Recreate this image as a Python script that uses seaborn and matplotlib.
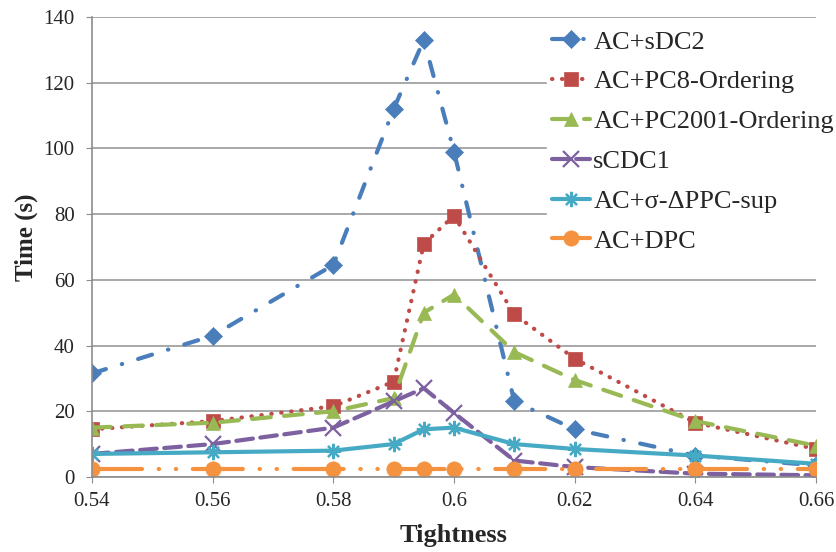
import numpy as np
import pandas as pd
import matplotlib
matplotlib.use('Agg')
import matplotlib.pyplot as plt
import seaborn as sns

tightness = [0.54, 0.56, 0.58, 0.59, 0.595, 0.60, 0.61, 0.62, 0.64, 0.66]

ac_sdc2 = [31.5, 43, 64.5, 112, 133, 99, 23, 14.5, 6.5, 3.5]
ac_pc8 = [14.5, 17, 21.5, 29, 71, 79.5, 49.5, 36, 16.5, 8.5]
ac_pc2001 = [15, 16.5, 20, 24, 50, 55.5, 38, 29.5, 17, 9.5]
scdc1 = [7, 10, 15, 23, 27, 19.5, 5, 3, 1, 0.5]
ac_dppc = [7, 7.5, 8, 10, 14.5, 15, 10, 8.5, 6.5, 4]
ac_dpc = [2.5, 2.5, 2.5, 2.5, 2.5, 2.5, 2.5, 2.5, 2.5, 2.5]

labels = ['AC+sDC2', 'AC+PC8-Ordering', 'AC+PC2001-Ordering', 'sCDC1',
          'AC+σ-ΔPPC-sup', 'AC+DPC']
series = [ac_sdc2, ac_pc8, ac_pc2001, scdc1, ac_dppc, ac_dpc]
colors = ['#4A7EBB', '#BE4B48', '#98B954', '#7D60A0', '#46AAC5', '#F59240']
markers = ['D', 's', '^', 'x', (8, 2, 0), 'o']
styles = [(0, (3.5, 4, 0.1, 4)), (0, (0.1, 2.3)), (0, (4.5, 3.2)),
          (0, (4, 1.8)), '-', (0, (12, 4, 0.1, 4, 0.1, 4))]
msizes = [9, 10, 10, 11, 11, 11]

sns.set_style('white')
plt.rcParams['font.family'] = ['Liberation Serif', 'DejaVu Serif']

fig = plt.figure(figsize=(8.37, 5.52), dpi=100)
ax = fig.add_axes([0.1099, 0.136, 0.865, 0.8333])

for lab, vals, c, m, ls, ms in zip(labels, series, colors, markers, styles, msizes):
    df = pd.DataFrame({'Tightness': tightness, 'Time': vals})
    thin = m == 'x' or isinstance(m, tuple)
    sns.lineplot(data=df, x='Tightness', y='Time', ax=ax, color=c, label=lab,
                 linestyle=ls, linewidth=3, marker=m, markersize=ms,
                 markeredgecolor=c, markeredgewidth=1.6 if thin else 0.5,
                 dash_capstyle='round', solid_capstyle='round')

ax.set_xlim(0.54, 0.66)
ax.set_ylim(0, 140)
ax.set_xticks(np.arange(0.54, 0.661, 0.02))
ax.set_xticklabels(['0.54', '0.56', '0.58', '0.6', '0.62', '0.64', '0.66'])
ax.set_yticks(range(0, 141, 20))
ax.yaxis.grid(True, color='#9a9a9a', linewidth=1.2)
ax.set_axisbelow(True)
for s in ['top', 'right']:
    ax.spines[s].set_visible(False)
for s in ['left', 'bottom']:
    ax.spines[s].set_color('#8c8c8c')
    ax.spines[s].set_linewidth(1.2)
ax.tick_params(axis='both', direction='out', length=4.5, color='#8c8c8c',
               labelsize=15, left=True, bottom=True)
ax.tick_params(axis='x', pad=6)
ax.tick_params(axis='y', pad=8)
ax.set_xlabel('Tightness', fontsize=19, fontweight='bold', labelpad=10)
ax.set_ylabel('Time (s)', fontsize=18, fontweight='bold')
ax.yaxis.set_label_coords(-0.0745, 0.52)

leg = ax.legend(loc='upper left', bbox_to_anchor=(0.628, 0.983), fontsize=19,
                frameon=True, facecolor='white', edgecolor='white', framealpha=1,
                handlelength=1.45, labelspacing=0.62, borderaxespad=0.0,
                borderpad=0.2, handletextpad=0.12)

fig.savefig('out.png', dpi=100)
